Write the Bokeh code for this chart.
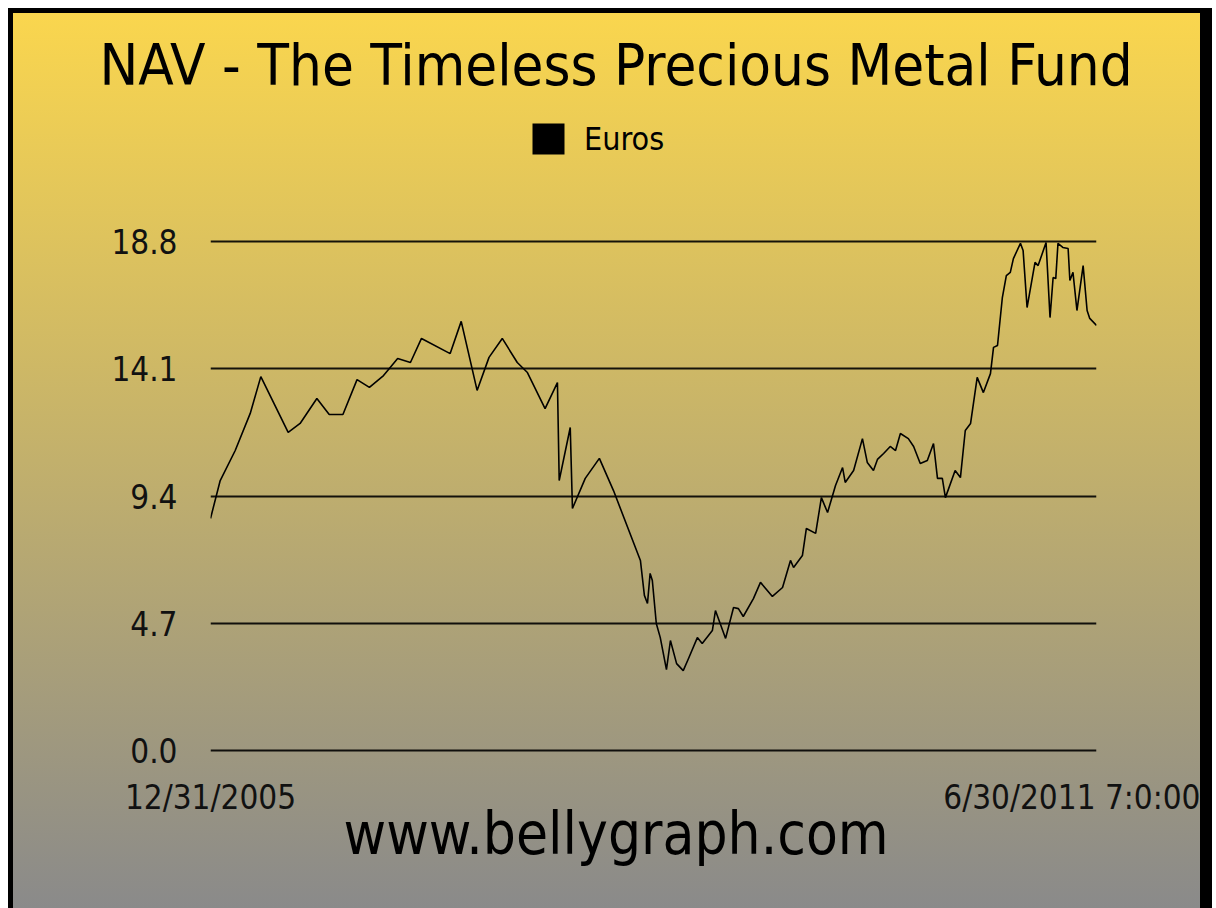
import math
import pandas as pd
from bokeh.plotting import figure
from bokeh.models import (FixedTicker, Legend, LegendItem, Range1d, Title,
                          PrintfTickFormatter, ColumnDataSource)
from bokeh.embed import file_html
from bokeh.resources import INLINE

# ---------------- data ----------------
dates = [
    "2005-12-31", "2006-01-22", "2006-02-25", "2006-03-31", "2006-04-24", "2006-06-25", "2006-07-22", "2006-08-29", "2006-09-26", "2006-10-27",
    "2006-11-28", "2006-12-26", "2007-01-27", "2007-02-28", "2007-03-29", "2007-04-23", "2007-06-27", "2007-07-22", "2007-08-27", "2007-09-23",
    "2007-10-23", "2007-11-26", "2007-12-19", "2008-01-28", "2008-02-25", "2008-02-29", "2008-03-25", "2008-03-30", "2008-04-28", "2008-05-30",
    "2008-07-01", "2008-08-31", "2008-09-09", "2008-09-16", "2008-09-22", "2008-09-27", "2008-10-06", "2008-10-15", "2008-10-29", "2008-11-07",
    "2008-11-21", "2008-12-06", "2008-12-18", "2009-01-07", "2009-01-18", "2009-02-10", "2009-02-17", "2009-03-12", "2009-03-30", "2009-04-10",
    "2009-04-21", "2009-05-14", "2009-05-30", "2009-06-26", "2009-07-19", "2009-08-06", "2009-08-13", "2009-09-02", "2009-09-11", "2009-10-02",
    "2009-10-15", "2009-10-29", "2009-11-16", "2009-12-02", "2009-12-08", "2009-12-27", "2010-01-16", "2010-01-27", "2010-02-10", "2010-02-19",
    "2010-03-05", "2010-03-20", "2010-04-01", "2010-04-12", "2010-04-30", "2010-05-12", "2010-05-27", "2010-06-12", "2010-06-26", "2010-07-05",
    "2010-07-16", "2010-07-23", "2010-08-14", "2010-08-26", "2010-09-06", "2010-09-18", "2010-10-03", "2010-10-17", "2010-11-02", "2010-11-09",
    "2010-11-18", "2010-11-29", "2010-12-08", "2010-12-17", "2010-12-24", "2011-01-09", "2011-01-15", "2011-01-24", "2011-02-11", "2011-02-18",
    "2011-03-08", "2011-03-17", "2011-03-24", "2011-03-30", "2011-04-04", "2011-04-15", "2011-04-27", "2011-05-01", "2011-05-08", "2011-05-17",
    "2011-05-31", "2011-06-09", "2011-06-15", "2011-06-30 07:00:00",
]
navs = [
    8.57, 9.97, 11.08, 12.45, 13.81, 11.75, 12.08, 13.00, 12.41, 12.41,
    13.70, 13.41, 13.85, 14.48, 14.33, 15.22, 14.66, 15.85, 13.30, 14.52,
    15.22, 14.33, 13.96, 12.63, 13.59, 9.97, 11.93, 8.94, 10.05, 10.79,
    9.60, 7.02, 5.73, 5.43, 6.54, 6.28, 4.69, 4.17, 2.99, 4.06,
    3.21, 2.95, 3.40, 4.17, 3.95, 4.43, 5.17, 4.14, 5.28, 5.24,
    4.95, 5.61, 6.21, 5.69, 6.02, 7.02, 6.76, 7.20, 8.20, 8.02,
    9.34, 8.79, 9.79, 10.45, 9.90, 10.34, 11.52, 10.64, 10.34, 10.75,
    10.97, 11.23, 11.08, 11.71, 11.52, 11.23, 10.60, 10.71, 11.34, 10.05,
    10.05, 9.34, 10.34, 10.08, 11.82, 12.08, 13.78, 13.22, 13.92, 14.89,
    14.96, 16.73, 17.54, 17.66, 18.17, 18.73, 18.47, 16.36, 18.03, 17.91,
    18.76, 15.99, 17.47, 17.43, 18.73, 18.58, 18.54, 17.36, 17.66, 16.25,
    17.91, 16.25, 15.96, 15.70,
]
y_ticks = [0.0, 4.7, 9.4, 14.1, 18.8]
x_tick_dates = ["2005-12-31", "2011-06-30 07:00:00"]
x_tick_labels = ["12/31/2005", "6/30/2011 7:0:00"]
title_text = "NAV - The Timeless Precious Metal Fund"
series_name = "Euros"
footer_text = "www.bellygraph.com"

# ---------------- figure ----------------
FONT = "DejaVu Sans Condensed"
x = pd.to_datetime(dates, format="mixed")
x_start = pd.Timestamp(x_tick_dates[0])
x_end = pd.Timestamp(x_tick_dates[1])

W, H = 1204, 900
FW = 886
ML = 197
MR = W - ML - FW
PX_PER_UNIT = 509 / 18.8      # 18.8 units span 509 px
ZERO_PX = 737                 # canvas row of value 0.0
FRAME_TOP = 88
FRAME_BOTTOM = 742
MB = H - FRAME_BOTTOM
y_lo = -(FRAME_BOTTOM - ZERO_PX) / PX_PER_UNIT
y_hi = (ZERO_PX - FRAME_TOP) / PX_PER_UNIT

p = figure(width=W, height=H,
           x_axis_type="datetime", title_location=None,
           x_range=Range1d(x_start.to_pydatetime(), x_end.to_pydatetime()),
           y_range=Range1d(y_lo, y_hi),
           output_backend="svg", toolbar_location=None,
           min_border_left=ML, min_border_right=MR,
           min_border_top=FRAME_TOP, min_border_bottom=MB)
p.styles = {
    "margin-left": "8px",
    "margin-top": "8px",
    "background": "linear-gradient(to bottom, #FAD64E 0%, #8A8A8A 100%)",
    "border-left": "5px solid black",
    "border-top": "5px solid black",
    "border-right": "12px solid black",
}
p.border_fill_color = None
p.background_fill_color = None
p.outline_line_color = None

src = ColumnDataSource(dict(x=x, y=navs))
p.line("x", "y", source=src, line_color="black", line_width=1.6)

# legend via a (non-displayed) square renderer
nan = math.nan
dummy = p.quad(left=[nan], right=[nan], top=[nan], bottom=[nan],
               fill_color="black", line_color=None)
legend = Legend(items=[LegendItem(label=series_name, renderers=[dummy])],
                location=(318, FRAME_BOTTOM - 145), orientation="horizontal",
                padding=0, margin=0, spacing=0,
                glyph_width=40, glyph_height=39, label_height=39,
                label_standoff=16, label_text_font_size="32px",
                label_text_font=FONT, label_text_color="black",
                border_line_color=None, background_fill_alpha=0)
p.add_layout(legend)

# axes
ms = lambda t: pd.Timestamp(t).value / 1e6
x_ticks_ms = [ms(t) for t in x_tick_dates]
p.xaxis.ticker = FixedTicker(ticks=x_ticks_ms)
p.xaxis.major_label_overrides = {k: v for k, v in zip(x_ticks_ms, x_tick_labels)}
p.yaxis.ticker = FixedTicker(ticks=y_ticks)
p.yaxis.formatter = PrintfTickFormatter(format="%.1f")
for ax in (p.xaxis, p.yaxis):
    ax.axis_line_color = None
    ax.major_tick_line_color = None
    ax.minor_tick_line_color = None
    ax.major_tick_out = 0
    ax.major_tick_in = 0
    ax.major_label_text_font = FONT
    ax.major_label_text_font_size = "33px"
    ax.major_label_text_color = "#111111"
p.yaxis.major_label_standoff = 33
p.xaxis.major_label_standoff = 22

p.xgrid.visible = False
p.ygrid.ticker = FixedTicker(ticks=y_ticks)
p.ygrid.grid_line_color = "black"
p.ygrid.grid_line_width = 2
p.ygrid.grid_line_alpha = 0.9

# title above, footer below the axis
p.add_layout(Title(text=title_text, align="left", offset=-111, standoff=5,
                   vertical_align="bottom",
                   text_font=FONT, text_font_size="57.7px", text_font_style="normal",
                   text_color="black"), "above")
p.add_layout(Title(text=footer_text, align="left", offset=133, standoff=-44,
                   text_font=FONT, text_font_size="58px", text_font_style="normal",
                   text_color="black"), "below")

open("out.html", "w").write(file_html(p, INLINE))
